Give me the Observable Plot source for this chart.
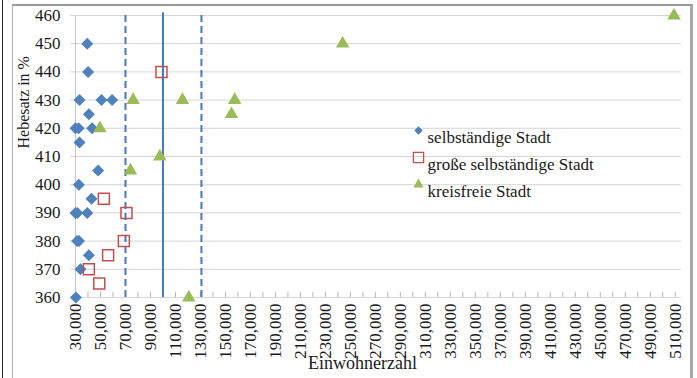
<!DOCTYPE html>
<html><head><meta charset="utf-8">
<script src="https://cdn.jsdelivr.net/npm/d3@7"></script>
<script src="https://cdn.jsdelivr.net/npm/@observablehq/plot@0.6"></script>
<style>
body{margin:0;background:#fff;}
#wrap{position:relative;width:697px;height:378px;overflow:hidden;background:#fff;}
#wrap svg, #wrap svg text, #wrap svg g{font-family:"Liberation Serif", serif !important;}
.deco{position:absolute;pointer-events:none;box-sizing:border-box;}
</style></head><body>
<div id="wrap"></div>
<script>
// Series names
const series = ["selbständige Stadt", "große selbständige Stadt", "kreisfreie Stadt"];

// selbständige Stadt (Einwohnerzahl, Hebesatz)
const selbX = [39400, 40100, 33200, 50800, 59300, 40700, 30000, 32500, 43300, 33200, 48100, 32700, 42800, 30000, 31500, 39400, 31300, 32800, 40700, 34000, 30300];
const selbY = [450, 440, 430, 430, 430, 425, 420, 420, 420, 415, 405, 400, 395, 390, 390, 390, 380, 380, 375, 370, 360];

// große selbständige Stadt
const grossX = [98800, 52700, 70800, 68700, 56100, 40700, 49000];
const grossY = [440, 395, 390, 380, 375, 370, 365];

// kreisfreie Stadt
const kreisX = [76100, 115600, 157400, 154800, 49500, 243800, 97500, 74000, 120700, 509000];
const kreisY = [430, 430, 430, 425, 420, 450, 410, 405, 360, 460];

// reference lines (mean and +/- one deviation of Einwohnerzahl)
const meanLine = [100000];
const devLines = [70000, 130800];

// ticks
const xTicks = [30000, 50000, 70000, 90000, 110000, 130000, 150000, 170000, 190000, 210000, 230000, 250000, 270000, 290000, 310000, 330000, 350000, 370000, 390000, 410000, 430000, 450000, 470000, 490000, 510000];
const xMinor = [30000, 40000, 50000, 60000, 70000, 80000, 90000, 100000, 110000, 120000, 130000, 140000, 150000, 160000, 170000, 180000, 190000, 200000, 210000, 220000, 230000, 240000, 250000, 260000, 270000, 280000, 290000, 300000, 310000, 320000, 330000, 340000, 350000, 360000, 370000, 380000, 390000, 400000, 410000, 420000, 430000, 440000, 450000, 460000, 470000, 480000, 490000, 500000, 510000];
const yTicks = [360, 370, 380, 390, 400, 410, 420, 430, 440, 450, 460];

const selb = selbX.map((x, i) => ({x, y: selbY[i]}));
const gross = grossX.map((x, i) => ({x, y: grossY[i]}));
const kreis = kreisX.map((x, i) => ({x, y: kreisY[i]}));

const font = "Liberation Serif";
const blue = "#4f81bd", red = "#c0504d", green = "#9bbb59", lineBlue = "#4577c2";
const fmt = d3.format(",");

const plot = Plot.plot({
  width: 697, height: 378,
  marginLeft: 75, marginRight: 16, marginTop: 15, marginBottom: 81,
  style: {fontFamily: font, fontSize: "17px", color: "#1a1a1a", background: "transparent"},
  x: {domain: [30000, 515000]},
  y: {domain: [360, 460]},
  marks: [
    Plot.ruleY(yTicks, {x1: 26000, x2: 515000, stroke: "#d6d6d6", strokeWidth: 1, strokeOpacity: 1}),
    Plot.ruleX([30000], {y1: 360, y2: 460, stroke: "#c8c8c8", strokeOpacity: 1}),
    Plot.axisX(xMinor, {tickSize: -5, tickFormat: () => "", stroke: "#b5b5b5", strokeOpacity: 1, label: null}),
    Plot.axisX(xTicks, {tickSize: 0, tickRotate: -90, tickPadding: 6, tickFormat: fmt, label: null, fontSize: 17, fontFamily: font}),
    Plot.axisY(yTicks, {tickSize: 0, tickPadding: 15, label: null, fontSize: 17, fontFamily: font}),
    Plot.ruleX(devLines, {y1: 360, y2: 460, stroke: lineBlue, strokeWidth: 2, strokeDasharray: "7,4"}),
    Plot.ruleX(meanLine, {y1: 360, y2: 461, stroke: lineBlue, strokeWidth: 2}),
    Plot.dot(selb, {x: "x", y: "y", symbol: "diamond2", fill: blue, stroke: "none", r: 5.4}),
    Plot.dot(gross, {x: "x", y: "y", symbol: "square2", stroke: red, fill: "none", strokeWidth: 1.5, r: 7}),
    Plot.dot(kreis, {x: "x", y: "y", symbol: "triangle", fill: green, stroke: "none", r: 5}),
    // legend
    Plot.dot([series[0]], {frameAnchor: "top-left", dx: 343, dy: 115, symbol: "diamond2", fill: blue, stroke: "none", r: 3.8}),
    Plot.dot([series[1]], {frameAnchor: "top-left", dx: 343, dy: 142, symbol: "square2", stroke: red, fill: "none", strokeWidth: 1.3, r: 6.5}),
    Plot.dot([series[2]], {frameAnchor: "top-left", dx: 343, dy: 169, symbol: "triangle", fill: green, stroke: "none", r: 3.8}),
    Plot.text([series[0]], {text: d => d, frameAnchor: "top-left", dx: 352, dy: 115, textAnchor: "start", fontSize: 17, fontFamily: font, fill: "#1a1a1a"}),
    Plot.text([series[1]], {text: d => d, frameAnchor: "top-left", dx: 352, dy: 142, textAnchor: "start", fontSize: 17, fontFamily: font, fill: "#1a1a1a"}),
    Plot.text([series[2]], {text: d => d, frameAnchor: "top-left", dx: 352, dy: 169, textAnchor: "start", fontSize: 17, fontFamily: font, fill: "#1a1a1a"}),
    // axis titles
    Plot.text(["Einwohnerzahl"], {text: d => d, frameAnchor: "bottom", dx: -16, dy: 71, fontSize: 18, fontFamily: font, fill: "#1a1a1a"}),
    Plot.text(["Hebesatz in %"], {text: d => d, frameAnchor: "left", rotate: -90, dx: -52, dy: -8, fontSize: 16, fontFamily: font, fill: "#1a1a1a"})
  ]
});

const wrap = document.getElementById("wrap");
wrap.appendChild(plot);
function deco(css) { const d = document.createElement("div"); d.className = "deco"; d.style.cssText = css; wrap.appendChild(d); }
deco("left:2px;top:0;width:1px;height:378px;background:#222;");
deco("left:12px;top:4px;width:681px;height:380px;border-top:2px solid #9a9a9a;border-left:1px solid #b0b0b0;border-right:3px solid #a8a8a8;");
</script>
</body></html>
